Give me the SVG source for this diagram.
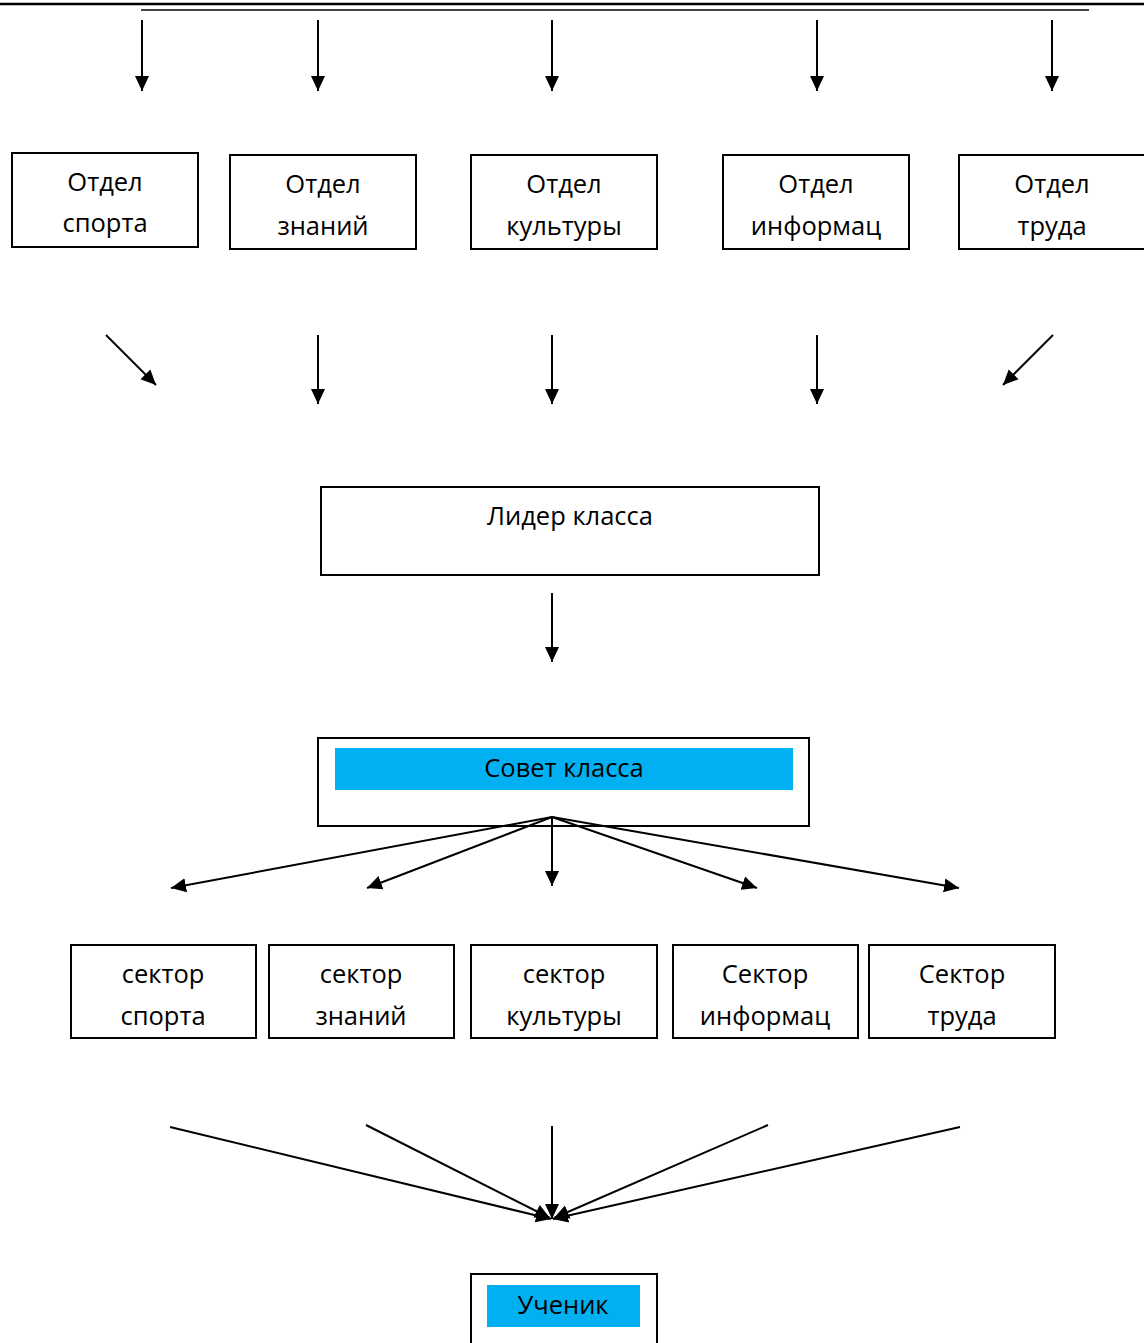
<svg xmlns="http://www.w3.org/2000/svg" width="1144" height="1343" viewBox="0 0 1144 1343">
<style>
.box{fill:#fff;stroke:#000;stroke-width:2}
.hl{fill:#00B0F0}
.t{font-family:"Open Sans","Liberation Sans",sans-serif;font-size:25.5px;fill:#000;text-anchor:middle}
.c{stroke:#000;stroke-width:2;fill:none;marker-end:url(#ah)}
</style>
<defs>
<marker id="ah" markerUnits="userSpaceOnUse" markerWidth="16" markerHeight="16" viewBox="0 0 16 16" refX="15" refY="8" orient="auto">
<path d="M0,1 L15,8 L0,15 Z" fill="#000"/>
</marker>
</defs>
<line x1="0" y1="4" x2="1144" y2="4" stroke="#000" stroke-width="2.5"/>
<line x1="141" y1="10" x2="1089" y2="10" stroke="#444" stroke-width="2"/>
<g id="otdel-sporta"><rect class="box" x="12" y="153" width="186" height="94"/><text class="t" x="105" y="191">Отдел</text><text class="t" x="105" y="232">спорта</text></g>
<g id="otdel-znaniy"><rect class="box" x="230" y="155" width="186" height="94"/><text class="t" x="323" y="193">Отдел</text><text class="t" x="323" y="235">знаний</text></g>
<g id="otdel-kultury"><rect class="box" x="471" y="155" width="186" height="94"/><text class="t" x="564" y="193">Отдел</text><text class="t" x="564" y="235">культуры</text></g>
<g id="otdel-informac"><rect class="box" x="723" y="155" width="186" height="94"/><text class="t" x="816" y="193">Отдел</text><text class="t" x="816" y="235">информац</text></g>
<g id="otdel-truda"><rect class="box" x="959" y="155" width="186" height="94"/><text class="t" x="1052" y="193">Отдел</text><text class="t" x="1052" y="235">труда</text></g>
<g id="lider"><rect class="box" x="321" y="487" width="498" height="88"/><text class="t" x="570" y="525">Лидер класса</text></g>
<g id="sovet"><rect class="box" x="318" y="738" width="491" height="88"/><rect class="hl" x="335" y="748" width="458" height="42"/><text class="t" x="564" y="777">Совет класса</text></g>
<g id="sektor-sporta"><rect class="box" x="71" y="945" width="185" height="93"/><text class="t" x="163" y="983">сектор</text><text class="t" x="163" y="1025">спорта</text></g>
<g id="sektor-znaniy"><rect class="box" x="269" y="945" width="185" height="93"/><text class="t" x="361" y="983">сектор</text><text class="t" x="361" y="1025">знаний</text></g>
<g id="sektor-kultury"><rect class="box" x="471" y="945" width="186" height="93"/><text class="t" x="564" y="983">сектор</text><text class="t" x="564" y="1025">культуры</text></g>
<g id="sektor-informac"><rect class="box" x="673" y="945" width="185" height="93"/><text class="t" x="765" y="983">Сектор</text><text class="t" x="765" y="1025">информац</text></g>
<g id="sektor-truda"><rect class="box" x="869" y="945" width="186" height="93"/><text class="t" x="962" y="983">Сектор</text><text class="t" x="962" y="1025">труда</text></g>
<g id="uchenik"><rect class="box" x="471" y="1274" width="186" height="75"/><rect class="hl" x="487" y="1285" width="153" height="42"/><text class="t" x="563" y="1314">Ученик</text></g>
<g id="connectors">
<line class="c" x1="142" y1="20" x2="142" y2="91"/>
<line class="c" x1="318" y1="20" x2="318" y2="91"/>
<line class="c" x1="552" y1="20" x2="552" y2="91"/>
<line class="c" x1="817" y1="20" x2="817" y2="91"/>
<line class="c" x1="1052" y1="20" x2="1052" y2="91"/>
<line class="c" x1="106" y1="335" x2="156" y2="385"/>
<line class="c" x1="318" y1="335" x2="318" y2="404"/>
<line class="c" x1="552" y1="335" x2="552" y2="404"/>
<line class="c" x1="817" y1="335" x2="817" y2="404"/>
<line class="c" x1="1053" y1="335" x2="1003" y2="385"/>
<line class="c" x1="552" y1="593" x2="552" y2="662"/>
<line class="c" x1="552" y1="817" x2="171" y2="888"/>
<line class="c" x1="552" y1="817" x2="367" y2="888"/>
<line class="c" x1="552" y1="817" x2="552" y2="886"/>
<line class="c" x1="552" y1="817" x2="757" y2="888"/>
<line class="c" x1="552" y1="817" x2="959" y2="888"/>
<line class="c" x1="170" y1="1127" x2="551" y2="1219"/>
<line class="c" x1="366" y1="1125" x2="550" y2="1218"/>
<line class="c" x1="552" y1="1126" x2="552" y2="1219"/>
<line class="c" x1="768" y1="1125" x2="554" y2="1218"/>
<line class="c" x1="960" y1="1127" x2="553" y2="1219"/>
</g>
</svg>
